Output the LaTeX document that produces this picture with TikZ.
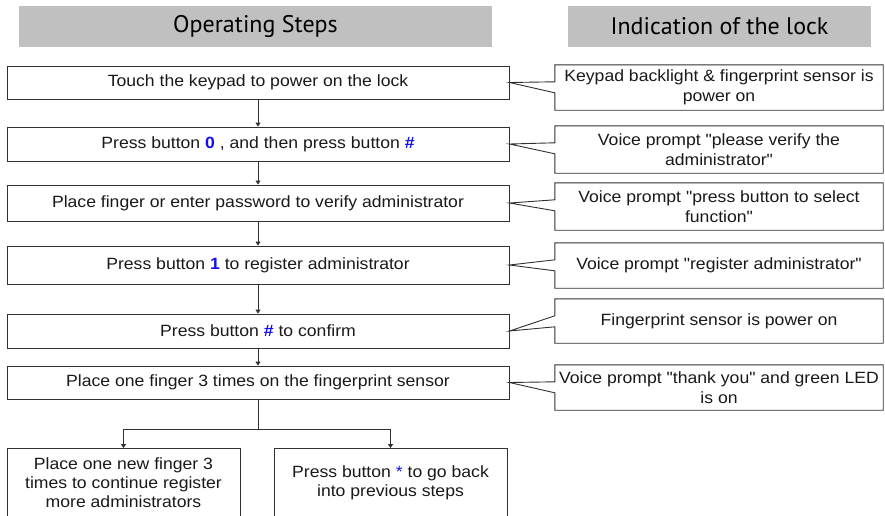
\documentclass[tikz,border=0pt]{standalone}
\usepackage{fontspec}
\setmainfont[FakeStretch=1.08, Ligatures=TeXOff]{Liberation Sans}
\newfontfamily\headfont{PT Sans}
\usetikzlibrary{arrows.meta}
\definecolor{linegray}{HTML}{303030}
\definecolor{headgray}{HTML}{C0C0C0}
\definecolor{keyblue}{HTML}{1010F0}
\newcommand{\keyb}[1]{\textcolor{keyblue}{\bfseries #1}}
\tikzset{
  stepbox/.style={draw=linegray, line width=0.9pt, minimum width=502pt, inner sep=0pt, align=center, text=black!90,
    font=\fontsize{16.3}{19}\selectfont},
  smallbox/.style={stepbox, minimum width=233pt, minimum height=68pt},
  callbox/.style={minimum width=328pt, inner sep=0pt, align=center, text=black!90,
    font=\fontsize{16.3}{19.5}\selectfont},
  callline/.style={draw=linegray, line width=0.9pt, line join=miter},
  headbox/.style={fill=headgray, minimum height=41pt, inner sep=0pt, text=black,
    font=\headfont\fontsize{24}{28}\selectfont},
  flow/.style={draw=linegray, line width=0.9pt, -{Triangle[width=5pt,length=4pt]}},
  plain/.style={draw=linegray, line width=0.9pt}
}
\begin{document}
\begin{tikzpicture}[x=1pt,y=-1pt]
\useasboundingbox (0,0) rectangle (885,515);
% headers
\node[headbox, minimum width=473pt] (h1) at (255.5,26) {Operating Steps};
\node[headbox, minimum width=303pt] (h2) at (719.5,26) {Indication of the lock};
% steps
\node[stepbox, minimum height=33pt] (b1) at (258,82.5) {Touch the keypad to power on the lock};
\node[stepbox, minimum height=34pt] (b2) at (258,144) {Press button \keyb{0} , and then press button \keyb{\#}};
\node[stepbox, minimum height=36pt] (b3) at (258,203) {Place finger or enter password to verify administrator};
\node[stepbox, minimum height=38pt] (b4) at (258,265) {Press button \keyb{1} to register administrator};
\node[stepbox, minimum height=34pt] (b5) at (258,331) {Press button \keyb{\#} to confirm};
\node[stepbox, minimum height=33pt] (b6) at (258,382.5) {Place one finger 3 times on the fingerprint sensor};
\node[smallbox] (bl) at (123.5,482.5) {Place one new finger 3\\times to continue register\\more administrators};
\node[smallbox] (br) at (390.5,482.5) {Press button \textcolor{keyblue}{*} to go back\\into previous steps};
% flow arrows
\draw[flow] (b1) -- (b2);
\draw[flow] (b2) -- (b3);
\draw[flow] (b3) -- (b4);
\draw[flow] (b4) -- (b5);
\draw[flow] (b5) -- (b6);
\path (b6.south) ++(0,30) coordinate (j);
\draw[plain] (b6.south) -- (j);
\draw[flow] (j) -| (bl.north);
\draw[flow] (j) -| (br.north);
% callouts
\node[callbox, minimum height=45pt] (c1) at (719,87.5) {Keypad backlight \& fingerprint sensor is\\power on};
\node[callbox, minimum height=47pt] (c2) at (719,149.5) {Voice prompt "please verify the\\administrator"};
\node[callbox, minimum height=47pt] (c3) at (719,206.5) {Voice prompt "press button to select\\function"};
\node[callbox, minimum height=45pt] (c4) at (719,265.5) {Voice prompt "register administrator"};
\node[callbox, minimum height=44pt] (c5) at (719,321) {Fingerprint sensor is power on};
\node[callbox, minimum height=45pt] (c6) at (719,387.5) {Voice prompt "thank you" and green LED\\is on};
\foreach \c/\b in {c1/b1,c2/b2,c3/b3,c4/b4,c5/b5,c6/b6}{
  \draw[callline] (\c.north west) -- (\c.north east) -- (\c.south east) -- (\c.south west)
    -- ([yshift=-28pt]\c.north west) -- (\b.east) -- ([yshift=-17pt]\c.north west) -- cycle;
}
\end{tikzpicture}
\end{document}
